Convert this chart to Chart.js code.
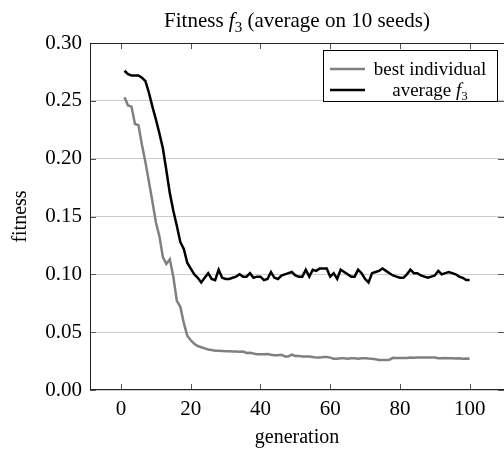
<!DOCTYPE html>
<html>
<head>
<meta charset="utf-8">
<script src="https://cdn.jsdelivr.net/npm/chart.js@4.4.0/dist/chart.umd.min.js"></script>
<style>
  html, body { margin: 0; padding: 0; background: #fff; }
</style>
</head>
<body>
<canvas id="fitnessChart" width="504" height="452"></canvas>
<script>
// generaciones 1..100
const generations = Array.from({ length: 100 }, (_, i) => i + 1);

const bestIndividual = [
  0.253, 0.246, 0.245, 0.230, 0.229, 0.212, 0.197, 0.180, 0.163, 0.145,
  0.133, 0.115, 0.109, 0.113, 0.098, 0.077, 0.072, 0.058, 0.047, 0.043,
  0.040, 0.038, 0.037, 0.036, 0.035, 0.0345, 0.034, 0.034, 0.0338, 0.0336,
  0.0335, 0.0333, 0.0333, 0.033, 0.0332, 0.032, 0.0322, 0.0315, 0.031, 0.031,
  0.031, 0.0312, 0.0305, 0.030, 0.030, 0.0305, 0.029, 0.029, 0.0305, 0.0295,
  0.0295, 0.029, 0.029, 0.029, 0.0285, 0.028, 0.028, 0.0285, 0.0285, 0.028,
  0.027, 0.027, 0.0275, 0.0275, 0.027, 0.0275, 0.0275, 0.027, 0.0275, 0.0275,
  0.0272, 0.027, 0.0265, 0.026, 0.026, 0.026, 0.0262, 0.0278, 0.0277, 0.0277,
  0.0277, 0.0277, 0.028, 0.0278, 0.028, 0.028, 0.028, 0.028, 0.0282, 0.028,
  0.0275, 0.0275, 0.0277, 0.0275, 0.0275, 0.0272, 0.0275, 0.027, 0.0272, 0.027
];

const averageF3 = [
  0.276, 0.273, 0.272, 0.272, 0.272, 0.270, 0.267, 0.257, 0.245, 0.234,
  0.222, 0.209, 0.190, 0.170, 0.155, 0.142, 0.128, 0.122, 0.110, 0.105,
  0.100, 0.097, 0.093, 0.097, 0.101, 0.096, 0.095, 0.104, 0.097, 0.096,
  0.096, 0.097, 0.098, 0.100, 0.098, 0.098, 0.101, 0.097, 0.098, 0.098,
  0.095, 0.096, 0.102, 0.097, 0.096, 0.099, 0.100, 0.101, 0.102, 0.099,
  0.098, 0.098, 0.104, 0.098, 0.104, 0.103, 0.105, 0.105, 0.105, 0.098,
  0.101, 0.096, 0.104, 0.102, 0.100, 0.098, 0.098, 0.104, 0.101, 0.096,
  0.093, 0.101, 0.102, 0.103, 0.105, 0.103, 0.101, 0.099, 0.098, 0.097,
  0.097, 0.100, 0.104, 0.101, 0.101, 0.099, 0.098, 0.097, 0.098, 0.099,
  0.103, 0.100, 0.101, 0.102, 0.101, 0.100, 0.098, 0.097, 0.095, 0.095
];

const xTicks = [0, 20, 40, 60, 80, 100];
const yTicks = [0, 0.05, 0.10, 0.15, 0.20, 0.25, 0.30];

const SERIF = "'Liberation Serif', 'Times New Roman', serif";
const GRAY = '#808080';

// texto con f en cursiva y subíndice 3
function drawMathText(ctx, pieces, cx, cy, size) {
  const fonts = pieces.map(p => p.sub ? `${Math.round(size * 0.7)}px ${SERIF}` : (p.it ? `italic ${size}px ${SERIF}` : `${size}px ${SERIF}`));
  let total = 0;
  const widths = pieces.map((p, i) => { ctx.font = fonts[i]; const w = ctx.measureText(p.t).width; total += w; return w; });
  let x = cx - total / 2;
  ctx.textAlign = 'left';
  ctx.textBaseline = 'alphabetic';
  pieces.forEach((p, i) => {
    ctx.font = fonts[i];
    ctx.fillText(p.t, x, cy + (p.sub ? size * 0.22 : 0));
    x += widths[i];
  });
}

const framePlugin = {
  id: 'frame',
  afterDatasetsDraw(chart) {
    const { ctx, chartArea: a, scales: { x, y } } = chart;
    ctx.save();
    ctx.lineWidth = 1;
    ctx.strokeStyle = '#555';
    ctx.beginPath();
    xTicks.forEach(v => {
      const px = Math.round(x.getPixelForValue(v)) + 0.5;
      ctx.moveTo(px, a.bottom); ctx.lineTo(px, a.bottom - 6);
      ctx.moveTo(px, a.top); ctx.lineTo(px, a.top + 6);
    });
    yTicks.forEach(v => {
      const py = Math.round(y.getPixelForValue(v)) + 0.5;
      ctx.moveTo(a.left, py); ctx.lineTo(a.left + 6, py);
      ctx.moveTo(a.right, py); ctx.lineTo(a.right - 6, py);
    });
    ctx.stroke();
    ctx.strokeStyle = '#222';
    ctx.strokeRect(Math.round(a.left) + 0.5, Math.round(a.top) + 0.5, a.width, a.height - 1);

    // leyenda
    const lx = 323, ly = 50, lw = 174, lh = 51;
    ctx.fillStyle = '#fff';
    ctx.fillRect(lx, ly, lw, lh);
    ctx.strokeStyle = '#000';
    ctx.strokeRect(lx + 0.5, ly + 0.5, lw, lh);
    const rows = [
      { color: GRAY, y: ly + 19, pieces: [{ t: 'best individual' }] },
      { color: '#000', y: ly + 40, pieces: [{ t: 'average ' }, { t: 'f', it: true }, { t: '3', sub: true }] }
    ];
    rows.forEach(r => {
      ctx.strokeStyle = r.color;
      ctx.lineWidth = 2.5;
      ctx.beginPath();
      ctx.moveTo(lx + 7, r.y); ctx.lineTo(lx + 42, r.y);
      ctx.stroke();
      ctx.fillStyle = '#000';
      drawMathText(ctx, r.pieces, lx + 107, r.y + 6, 19);
    });

    // título
    drawMathText(ctx, [{ t: 'Fitness ' }, { t: 'f', it: true }, { t: '3', sub: true }, { t: ' (average on 10 seeds)' }],
      (a.left + a.right) / 2, 27, 21);
    ctx.restore();
  }
};

new Chart(document.getElementById('fitnessChart'), {
  type: 'line',
  data: {
    datasets: [
      {
        label: 'best individual',
        data: generations.map((g, i) => ({ x: g, y: bestIndividual[i] })),
        borderColor: GRAY,
        borderWidth: 2.5,
        pointRadius: 0,
        tension: 0,
      },
      {
        label: 'average f3',
        data: generations.map((g, i) => ({ x: g, y: averageF3[i] })),
        borderColor: '#000',
        borderWidth: 2.5,
        pointRadius: 0,
        tension: 0,
      },
    ],
  },
  options: {
    responsive: false,
    animation: false,
    layout: { padding: { top: 43, left: 0, right: 0, bottom: 0 } },
    plugins: { legend: { display: false }, title: { display: false }, tooltip: { enabled: false } },
    scales: {
      x: {
        type: 'linear',
        min: -8.9,
        max: 109.85,
        afterBuildTicks: s => { s.ticks = xTicks.map(v => ({ value: v })); },
        afterFit: s => { s.height = 62; },
        grid: { display: false },
        border: { display: false },
        ticks: { color: '#000', padding: -1, font: { family: SERIF, size: 21 }, maxRotation: 0 },
        title: { display: true, text: 'generation', color: '#000', font: { family: SERIF, size: 20 }, padding: { top: 0, bottom: 2 } },
      },
      y: {
        min: 0,
        max: 0.3,
        afterBuildTicks: s => { s.ticks = yTicks.map(v => ({ value: v })); },
        afterFit: s => { s.width = 90; },
        grid: { color: '#cccccc', drawTicks: false },
        border: { display: false },
        ticks: { color: '#000', padding: 8, font: { family: SERIF, size: 21 }, callback: v => Number(v).toFixed(2) },
        title: { display: true, text: 'fitness', color: '#000', font: { family: SERIF, size: 20 }, padding: { top: 9, bottom: 0 } },
      },
    },
  },
  plugins: [framePlugin],
});
</script>
</body>
</html>
